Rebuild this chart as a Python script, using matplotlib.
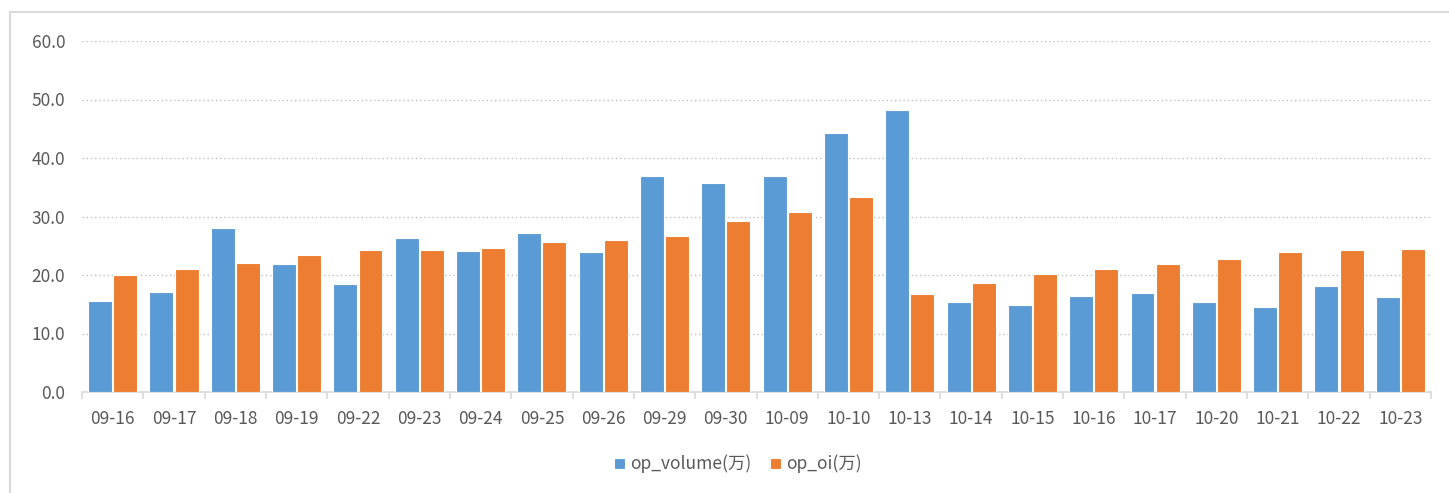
import matplotlib
matplotlib.use("Agg")
import matplotlib.pyplot as plt
import numpy as np
from matplotlib.lines import Line2D

plt.rcParams['font.family'] = ['Noto Sans CJK SC', 'DejaVu Sans']

dates = ["09-16", "09-17", "09-18", "09-19", "09-22", "09-23", "09-24", "09-25", "09-26",
         "09-29", "09-30", "10-09", "10-10", "10-13", "10-14", "10-15", "10-16", "10-17",
         "10-20", "10-21", "10-22", "10-23"]
op_volume = [15.5, 17.1, 28.1, 21.9, 18.4, 26.3, 24.1, 27.2, 24.0, 37.0, 35.8, 37.0, 44.2,
             48.2, 15.4, 14.8, 16.4, 16.9, 15.3, 14.6, 18.2, 16.2]
op_oi = [20.0, 21.0, 22.0, 23.5, 24.2, 24.2, 24.6, 25.6, 26.0, 26.7, 29.3, 30.7, 33.4,
         16.8, 18.6, 20.1, 21.0, 21.8, 22.7, 23.9, 24.2, 24.4]
yticks = [0, 10, 20, 30, 40, 50, 60]

W, H = 1449, 493
fig = plt.figure(figsize=(W / 100, H / 100), dpi=100)
bc = "#D9D9D9"
fig.lines.append(Line2D([10 / W, 1], [1 - 12 / H, 1 - 12 / H], transform=fig.transFigure, color=bc, linewidth=1.5))
fig.lines.append(Line2D([10 / W, 10 / W], [0, 1 - 12 / H], transform=fig.transFigure, color=bc, linewidth=1.5))
ax = fig.add_axes([82 / W, 1 - 392 / H, (1431 - 82) / W, (392 - 41) / H])

x = np.arange(len(dates))
bw = 0.39
c1, c2 = "#5B9BD5", "#ED7D31"
ax.bar(x - 0.205, op_volume, bw, color=c1, edgecolor="white", linewidth=0.8, label="op_volume(万)", zorder=3)
ax.bar(x + 0.205, op_oi, bw, color=c2, edgecolor="white", linewidth=0.8, label="op_oi(万)", zorder=3)

ax.set_xlim(-0.5, len(dates) - 0.5)
ax.set_ylim(0, 60)
ax.set_yticks(yticks)
ax.set_yticklabels([f"{v:.1f}" for v in yticks], color="#595959", fontsize=12.5)
ax.yaxis.grid(True, linestyle=(0, (1, 2)), color="#BFBFBF", linewidth=1, zorder=0)
ax.set_axisbelow(True)
ax.tick_params(axis="y", length=0, pad=12)

ax.set_xticks(x)
ax.set_xticklabels(dates, color="#595959", fontsize=12.5)
ax.set_xticks(np.arange(-0.5, len(dates)), minor=True)
ax.tick_params(axis="x", which="major", length=0, pad=13)
ax.tick_params(axis="x", which="minor", length=5, color=bc, width=1.2)

for s in ["top", "right", "left"]:
    ax.spines[s].set_visible(False)
ax.spines["bottom"].set_color(bc)
ax.spines["bottom"].set_linewidth(1.2)

leg = fig.legend(loc="center", bbox_to_anchor=(738 / W, 1 - 464 / H), ncol=2, frameon=False,
                 fontsize=12.5, handlelength=0.6, handleheight=0.6, columnspacing=1.1, handletextpad=0.3)
for t in leg.get_texts():
    t.set_color("#595959")

fig.savefig("out.png", dpi=100)
